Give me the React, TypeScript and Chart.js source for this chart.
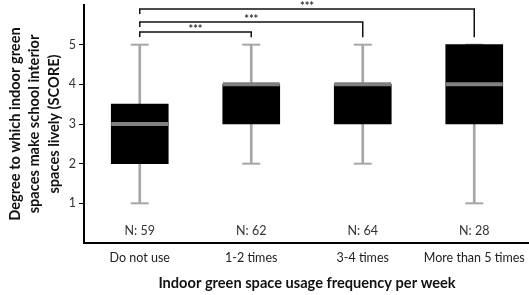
import React, { useEffect, useRef } from "react";
import { Chart, registerables } from "chart.js";

Chart.register(...registerables);

const categories = ["Do not use", "1-2 times", "3-4 times", "More than 5 times"];
const whiskerMin = [1, 2, 2, 1];
const q1 = [2, 3, 3, 3];
const median = [3, 4, 4, 4];
const q3 = [3.5, 4, 4, 5];
const whiskerMax = [5, 5, 5, 5];
const nCounts = [59, 62, 64, 28];
const yTickValues = [1, 2, 3, 4, 5];
const comparisons = [
  { from: 0, to: 1, label: "***" },
  { from: 0, to: 2, label: "***" },
  { from: 0, to: 3, label: "***" },
];

const FONT = "Lato, 'Open Sans', sans-serif";

const annotationPlugin = {
  id: "annotations",
  afterDatasetsDraw(chart: any) {
    const { ctx, scales, chartArea } = chart;
    const xs = scales.x;
    const ys = scales.y;
    ctx.save();
    ctx.fillStyle = "#333";
    ctx.font = `12.5px ${FONT}`;
    ctx.textAlign = "center";
    ctx.textBaseline = "middle";
    nCounts.forEach((n, i) => {
      ctx.fillText(`N: ${n}`, xs.getPixelForValue(i), chartArea.bottom - 12);
    });
    const levels = [5.32, 5.57, 5.9];
    const dropEnd = 5.19;
    ctx.strokeStyle = "#111";
    ctx.lineWidth = 1.5;
    comparisons.forEach((c, k) => {
      const x1 = xs.getPixelForValue(c.from);
      const x2 = xs.getPixelForValue(c.to);
      const yl = ys.getPixelForValue(levels[k]);
      ctx.beginPath();
      ctx.moveTo(x1, yl + 5);
      ctx.lineTo(x1, yl);
      ctx.lineTo(x2, yl);
      ctx.lineTo(x2, ys.getPixelForValue(dropEnd));
      ctx.stroke();
      ctx.fillStyle = "#333";
      ctx.font = `bold 11px ${FONT}`;
      ctx.textBaseline = "alphabetic";
      ctx.fillText(c.label, (x1 + x2) / 2, yl + 1);
    });
    ctx.restore();
  },
};

export default function App() {
  const ref = useRef<HTMLCanvasElement>(null);
  useEffect(() => {
    if (!ref.current) return;
    const chart = new Chart(ref.current, {
      type: "bar",
      data: {
        labels: categories,
        datasets: [
          {
            type: "line",
            data: median,
            showLine: false,
            pointStyle: "line",
            pointRadius: 28.5,
            pointHoverRadius: 28.5,
            pointBorderWidth: 4,
            borderColor: "#808080",
            backgroundColor: "#808080",
            order: 0,
          } as any,
          {
            type: "bar",
            data: q1.map((v, i) => [v, q3[i]]),
            backgroundColor: "#000",
            borderWidth: 0,
            barThickness: 57,
            grouped: false,
            order: 1,
          } as any,
          {
            type: "line",
            data: whiskerMin,
            showLine: false,
            pointStyle: "line",
            pointRadius: 9,
            pointHoverRadius: 9,
            pointBorderWidth: 2,
            borderColor: "#a6a6a6",
            backgroundColor: "#a6a6a6",
            order: 2,
          } as any,
          {
            type: "line",
            data: whiskerMax,
            showLine: false,
            pointStyle: "line",
            pointRadius: 9,
            pointHoverRadius: 9,
            pointBorderWidth: 2,
            borderColor: "#a6a6a6",
            backgroundColor: "#a6a6a6",
            order: 2,
          } as any,
          {
            type: "bar",
            data: whiskerMin.map((v, i) => [v, whiskerMax[i]]),
            backgroundColor: "#a6a6a6",
            borderWidth: 0,
            barThickness: 2,
            grouped: false,
            order: 3,
          } as any,
        ],
      },
      options: {
        responsive: false,
        animation: false,
        events: [],
        layout: { autoPadding: false, padding: { top: 5, right: 0, left: 0, bottom: 0 } },
        plugins: { legend: { display: false }, tooltip: { enabled: false } },
        scales: {
          x: {
            type: "category",
            offset: true,
            grid: { display: false, drawTicks: false },
            border: { display: true, color: "#000", width: 2 },
            ticks: { color: "#222", font: { family: FONT, size: 12.5 }, padding: 7 },
            title: {
              display: true,
              text: "Indoor green space usage frequency per week",
              color: "#111",
              font: { family: FONT, size: 14.6, weight: "bold" },
              padding: { top: 0, bottom: 3 },
            },
            afterFit: (s: any) => {
              s.height = 52;
              s.paddingLeft = 0;
              s.paddingRight = 0;
            },
          },
          y: {
            type: "linear",
            min: 0,
            max: 6,
            grid: { display: true, drawOnChartArea: false, drawTicks: true, tickLength: 5, color: "#000" },
            border: { display: true, color: "#000", width: 2 },
            afterBuildTicks: (s: any) => {
              s.ticks = yTickValues.map((v) => ({ value: v }));
            },
            ticks: { color: "#333", font: { family: FONT, size: 12.5 }, padding: 3 },
            title: {
              display: true,
              text: ["Degree to which indoor green", "spaces make school interior", "spaces lively (SCORE)"],
              color: "#111",
              font: { family: FONT, size: 14.6, weight: "bold", lineHeight: 1.33 },
              padding: { top: 5.5, bottom: 0 },
            },
            afterFit: (s: any) => {
              s.width = 84;
              s.paddingTop = 0;
              s.paddingBottom = 0;
            },
          },
        },
      },
      plugins: [annotationPlugin],
    } as any);
    return () => chart.destroy();
  }, []);
  return (
    <div style={{ position: "fixed", left: 0, top: 0, width: 530, height: 295, background: "#fff" }}>
      <canvas ref={ref} width={530} height={295} style={{ display: "block" }} />
    </div>
  );
}
